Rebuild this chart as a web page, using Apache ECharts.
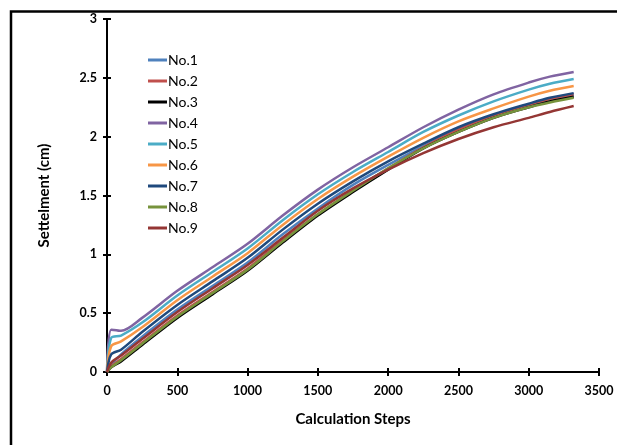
<!DOCTYPE html>
<html>
<head>
<meta charset="utf-8">
<script src="https://cdn.jsdelivr.net/npm/echarts@6/dist/echarts.min.js"></script>
<style>
  html, body { margin: 0; padding: 0; background: #fff; }
  #chart { width: 617px; height: 445px; }
</style>
</head>
<body>
<div id="chart"></div>
<script>
const steps = [0, 30, 100, 250, 500, 750, 1000, 1250, 1500, 1750, 2000, 2250, 2500, 2750, 3000, 3150, 3320];

const names = ['No.1', 'No.2', 'No.3', 'No.4', 'No.5', 'No.6', 'No.7', 'No.8', 'No.9'];
const colors = ['#4F81BD', '#C0504D', '#000000', '#8064A2', '#4BACC6', '#F79646', '#1F497D', '#77933C', '#943634'];

// settlement (cm)
const no1 = [0, 0.06, 0.15, 0.30, 0.53, 0.73, 0.93, 1.17, 1.39, 1.59, 1.76, 1.92, 2.06, 2.17, 2.26, 2.30, 2.35];
const no2 = [0, 0.05, 0.11, 0.25, 0.48, 0.68, 0.88, 1.12, 1.34, 1.54, 1.73, 1.91, 2.06, 2.18, 2.27, 2.32, 2.36];
const no3 = [0, 0.04, 0.09, 0.23, 0.46, 0.66, 0.86, 1.10, 1.33, 1.53, 1.72, 1.90, 2.04, 2.16, 2.25, 2.30, 2.34];
const no4 = [0, 0.36, 0.35, 0.46, 0.69, 0.89, 1.09, 1.33, 1.55, 1.74, 1.91, 2.08, 2.23, 2.36, 2.46, 2.51, 2.55];
const no5 = [0, 0.29, 0.31, 0.42, 0.65, 0.85, 1.05, 1.29, 1.51, 1.70, 1.87, 2.04, 2.18, 2.30, 2.40, 2.45, 2.49];
const no6 = [0, 0.22, 0.26, 0.38, 0.61, 0.81, 1.01, 1.25, 1.47, 1.66, 1.83, 1.99, 2.13, 2.24, 2.34, 2.39, 2.43];
const no7 = [0, 0.15, 0.19, 0.34, 0.57, 0.77, 0.97, 1.21, 1.43, 1.62, 1.79, 1.94, 2.08, 2.19, 2.28, 2.33, 2.37];
const no8 = [0, 0.04, 0.10, 0.24, 0.47, 0.67, 0.87, 1.11, 1.34, 1.54, 1.73, 1.90, 2.04, 2.16, 2.25, 2.29, 2.33];
const no9 = [0, 0.08, 0.14, 0.28, 0.51, 0.71, 0.91, 1.14, 1.37, 1.56, 1.72, 1.86, 1.98, 2.08, 2.16, 2.21, 2.26];
const allValues = [no1, no2, no3, no4, no5, no6, no7, no8, no9];

const font = 'Lato, "Open Sans", sans-serif';

let myChart = echarts.init(document.getElementById('chart'));

const series = names.map((name, i) => {
  return {
    name: name,
    type: 'line',
    smooth: 0.3,
    symbol: 'none',
    lineStyle: { width: 2.5, color: colors[i] },
    itemStyle: { color: colors[i] },
    data: steps.map((s, k) => [s, allValues[i][k]])
  };
});

const axisLine = { show: true, onZero: false, lineStyle: { color: '#000', width: 2 } };

const option = {
  backgroundColor: '#fff',
  animation: false,
  grid: { left: 107, right: 18, top: 19, bottom: 73 },
  legend: {
    orient: 'vertical',
    left: 143,
    top: 48,
    itemWidth: 19,
    itemHeight: 3,
    itemGap: 7,
    icon: 'rect',
    textStyle: { fontFamily: font, fontSize: 14, color: '#000', lineHeight: 14, padding: [0, 0, 0, -4] },
    data: names
  },
  xAxis: [
    {
      type: 'value', min: 0, max: 3500, interval: 500, position: 'bottom',
      name: 'Calculation Steps', nameLocation: 'middle', nameGap: 40,
      nameTextStyle: { fontFamily: font, fontSize: 15, fontWeight: 'bold', color: '#000' },
      axisLine: axisLine,
      axisTick: { show: true, length: 4, lineStyle: { color: '#000', width: 2 } },
      axisLabel: { fontFamily: font, fontSize: 12.5, fontWeight: 'bold', color: '#000', margin: 12,
        formatter: v => String(v) },
      splitLine: { show: false }
    },
    {
      type: 'value', min: 0, max: 3500, interval: 500, position: 'bottom',
      axisLine: { show: false },
      axisTick: { show: true, inside: true, length: 4, lineStyle: { color: '#000', width: 2 } },
      axisLabel: { show: false },
      splitLine: { show: false }
    }
  ],
  yAxis: [
    {
      type: 'value', min: 0, max: 3, interval: 0.5, position: 'left',
      name: 'Settelment (cm)', nameLocation: 'middle', nameGap: 55, nameRotate: 90,
      nameTextStyle: { fontFamily: font, fontSize: 15, fontWeight: 'bold', color: '#000' },
      axisLine: axisLine,
      axisTick: { show: true, length: 4, lineStyle: { color: '#000', width: 2 } },
      axisLabel: { fontFamily: font, fontSize: 12.5, fontWeight: 'bold', color: '#000', margin: 10,
        formatter: v => String(v) },
      splitLine: { show: false }
    },
    {
      type: 'value', min: 0, max: 3, interval: 0.5, position: 'left',
      axisLine: { show: false },
      axisTick: { show: true, inside: true, length: 4, lineStyle: { color: '#000', width: 2 } },
      axisLabel: { show: false },
      splitLine: { show: false }
    }
  ],
  graphic: [
    {
      type: 'rect',
      silent: true,
      shape: { x: 11, y: 11.5, width: 700, height: 500 },
      style: { fill: 'none', stroke: '#000', lineWidth: 2.5 }
    }
  ],
  series: series
};

myChart.setOption(option);
</script>
</body>
</html>
